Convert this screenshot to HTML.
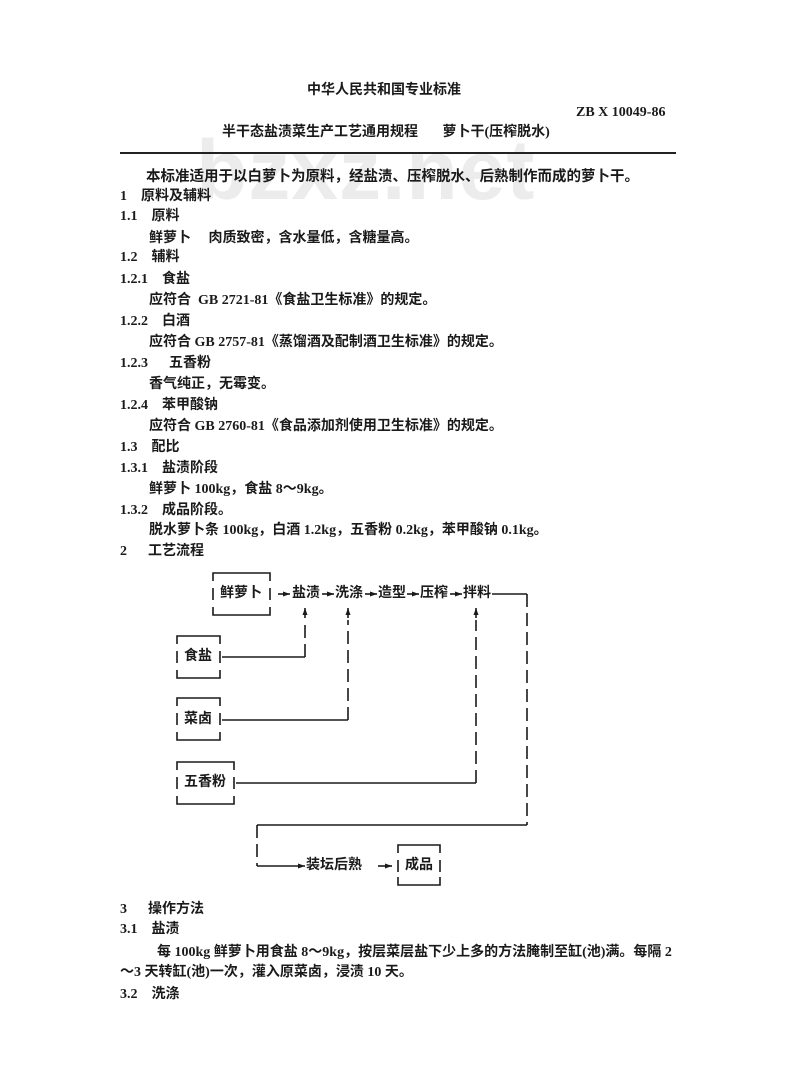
<!DOCTYPE html>
<html><head><meta charset="utf-8"><style>
body{margin:0;background:#fff;}
#p{position:relative;width:800px;height:1091px;overflow:hidden;background:#fff;font-family:"Liberation Serif","Noto Sans CJK SC",serif;font-weight:bold;color:#1a1a1a;font-size:14px;}
.t{position:absolute;white-space:nowrap;line-height:16px;}
.wm{position:absolute;left:196px;top:122px;font-family:"Liberation Sans",sans-serif;font-weight:bold;font-size:84px;color:#ececec;letter-spacing:1px;}
</style></head><body><div id="p">
<div class="wm">bzxz.net</div>
<div class="t" style="left:307px;top:83px">中华人民共和国专业标准</div>
<div class="t" style="left:576px;top:105px">ZB X 10049-86</div>
<div class="t" style="left:222px;top:125px">半干态盐渍菜生产工艺通用规程&nbsp;&nbsp;&nbsp;&nbsp;&nbsp;&nbsp;&nbsp;萝卜干(压榨脱水)</div>
<div style="position:absolute;left:120px;top:152px;width:556px;height:2px;background:#222"></div>
<div class="t" style="left:146px;top:169px;font-size:14.5px">本标准适用于以白萝卜为原料，经盐渍、压榨脱水、后熟制作而成的萝卜干。</div>
<div class="t" style="left:120px;top:189px">1&nbsp;&nbsp;&nbsp;&nbsp;原料及辅料</div>
<div class="t" style="left:120px;top:209px">1.1&nbsp;&nbsp;&nbsp;&nbsp;原料</div>
<div class="t" style="left:149px;top:231px">鲜萝卜&nbsp;&nbsp;&nbsp;&nbsp;&nbsp;肉质致密，含水量低，含糖量高。</div>
<div class="t" style="left:120px;top:250px">1.2&nbsp;&nbsp;&nbsp;&nbsp;辅料</div>
<div class="t" style="left:120px;top:272px">1.2.1&nbsp;&nbsp;&nbsp;&nbsp;食盐</div>
<div class="t" style="left:149px;top:293px">应符合&nbsp;&nbsp;GB 2721-81《食盐卫生标准》的规定。</div>
<div class="t" style="left:120px;top:314px">1.2.2&nbsp;&nbsp;&nbsp;&nbsp;白酒</div>
<div class="t" style="left:149px;top:335px">应符合 GB 2757-81《蒸馏酒及配制酒卫生标准》的规定。</div>
<div class="t" style="left:120px;top:356px">1.2.3&nbsp;&nbsp;&nbsp;&nbsp;&nbsp;&nbsp;五香粉</div>
<div class="t" style="left:149px;top:377px">香气纯正，无霉变。</div>
<div class="t" style="left:120px;top:398px">1.2.4&nbsp;&nbsp;&nbsp;&nbsp;苯甲酸钠</div>
<div class="t" style="left:149px;top:419px">应符合 GB 2760-81《食品添加剂使用卫生标准》的规定。</div>
<div class="t" style="left:120px;top:440px">1.3&nbsp;&nbsp;&nbsp;&nbsp;配比</div>
<div class="t" style="left:120px;top:461px">1.3.1&nbsp;&nbsp;&nbsp;&nbsp;盐渍阶段</div>
<div class="t" style="left:149px;top:482px">鲜萝卜 100kg，食盐 8～9kg。</div>
<div class="t" style="left:120px;top:503px">1.3.2&nbsp;&nbsp;&nbsp;&nbsp;成品阶段。</div>
<div class="t" style="left:149px;top:523px">脱水萝卜条 100kg，白酒 1.2kg，五香粉 0.2kg，苯甲酸钠 0.1kg。</div>
<div class="t" style="left:120px;top:544px">2&nbsp;&nbsp;&nbsp;&nbsp;&nbsp;&nbsp;工艺流程</div>

<svg style="position:absolute;left:0;top:0" width="800" height="1091" stroke="#1a1a1a" fill="none" stroke-width="1.6">
<defs><marker id="a" markerUnits="userSpaceOnUse" markerWidth="7" markerHeight="6" refX="7" refY="3" orient="auto"><path d="M0,0.5 L7,3 L0,5.5z" fill="#1a1a1a" stroke="none"/></marker></defs>
<path d="M213,581 V573 H270 V581 M213,588 V600 M270,588 V600 M213,607 V615 H270 V607"/>
<path d="M177,644 V636 H220 V644 M177,670 V678 H220 V670 M177,651 V663 M220,651 V663"/>
<path d="M177,706 V698 H220 V706 M177,732 V740 H220 V732 M177,713 V725 M220,713 V725"/>
<path d="M177,770 V762 H234 V770 M177,796 V804 H234 V796 M177,777 V789 M234,777 V789"/>
<path d="M398,853 V845 H440 V853 M398,877 V885 H440 V877 M398,860 V872 M440,860 V872"/>
<line x1="278" y1="594" x2="290" y2="594" marker-end="url(#a)"/>
<line x1="322" y1="594" x2="334" y2="594" marker-end="url(#a)"/>
<line x1="365" y1="594" x2="377" y2="594" marker-end="url(#a)"/>
<line x1="407" y1="594" x2="419" y2="594" marker-end="url(#a)"/>
<line x1="450" y1="594" x2="462" y2="594" marker-end="url(#a)"/>
<path d="M492,594 H527"/>
<path d="M527,594 V825" stroke-dasharray="13,6"/>
<path d="M527,825 H257"/>
<path d="M257,825 V866" stroke-dasharray="13,6"/>
<line x1="257" y1="866" x2="305" y2="866" marker-end="url(#a)"/>
<line x1="378" y1="866" x2="392" y2="866" marker-end="url(#a)"/>
<path d="M222,657 H305"/>
<path d="M305,657 V620" stroke-dasharray="13,6"/>
<line x1="305" y1="618" x2="305" y2="608" marker-end="url(#a)"/>
<path d="M222,720 H348"/>
<path d="M348,720 V620" stroke-dasharray="13,6"/>
<line x1="348" y1="618" x2="348" y2="608" marker-end="url(#a)"/>
<path d="M236,783 H476"/>
<path d="M476,783 V620" stroke-dasharray="13,6"/>
<line x1="476" y1="618" x2="476" y2="608" marker-end="url(#a)"/>
</svg>
<div class="t" style="left:220px;top:586px">鲜萝卜</div>
<div class="t" style="left:292px;top:586px">盐渍</div>
<div class="t" style="left:335px;top:586px">洗涤</div>
<div class="t" style="left:378px;top:586px">造型</div>
<div class="t" style="left:420px;top:586px">压榨</div>
<div class="t" style="left:463px;top:586px">拌料</div>
<div class="t" style="left:184px;top:649px">食盐</div>
<div class="t" style="left:184px;top:712px">菜卤</div>
<div class="t" style="left:184px;top:775px">五香粉</div>
<div class="t" style="left:306px;top:858px">装坛后熟</div>
<div class="t" style="left:405px;top:858px">成品</div>

<div class="t" style="left:120px;top:902px">3&nbsp;&nbsp;&nbsp;&nbsp;&nbsp;&nbsp;操作方法</div>
<div class="t" style="left:120px;top:922px">3.1&nbsp;&nbsp;&nbsp;&nbsp;盐渍</div>
<div class="t" style="left:157px;top:945px">每 100kg 鲜萝卜用食盐 8～9kg，按层菜层盐下少上多的方法腌制至缸(池)满。每隔 2</div>
<div class="t" style="left:120px;top:965px">～3 天转缸(池)一次，灌入原菜卤，浸渍 10 天。</div>
<div class="t" style="left:120px;top:987px">3.2&nbsp;&nbsp;&nbsp;&nbsp;洗涤</div>
</div></body></html>
